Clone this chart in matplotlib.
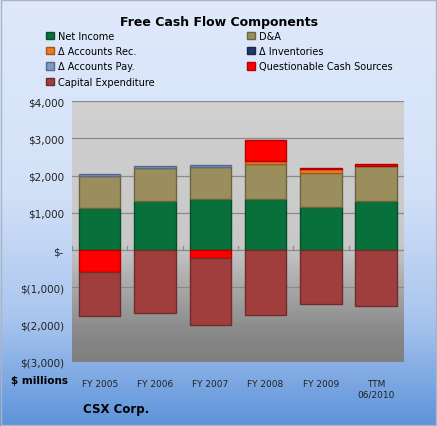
import matplotlib.pyplot as plt
import matplotlib.colors as mcolors
import numpy as np

## Data ($ millions)

categories = ["FY 2005", "FY 2006", "FY 2007", "FY 2008", "FY 2009", "TTM\n06/2010"]
net_income = [1135, 1330, 1360, 1385, 1170, 1330]
dna = [845, 865, 880, 915, 910, 930]
accounts_rec = [0, 0, 0, 80, 100, 0]
inventories = [0, 0, 0, 0, 0, 0]
accounts_pay = [50, 60, 45, 0, 0, 0]
questionable = [-595, 0, -200, 575, 20, 40]
capex = [-1180, -1685, -1820, -1750, -1450, -1505]

series = [
    ("Net Income", net_income, "#08703a"),
    ("D&A", dna, "#9a8f5c"),
    ("\u0394 Accounts Rec.", accounts_rec, "#ee7b22"),
    ("\u0394 Inventories", inventories, "#1f3a68"),
    ("\u0394 Accounts Pay.", accounts_pay, "#7f97c4"),
    ("Questionable Cash Sources", questionable, "#ff0000"),
    ("Capital Expenditure", capex, "#a03e3e"),
]

## Figure + background gradient

fig = plt.figure(figsize=(4.37, 4.27), dpi=100)
bg = fig.add_axes([0, 0, 1, 1], zorder=-10)
grad = np.linspace(0, 1, 256).reshape(-1, 1)
cmap_bg = mcolors.LinearSegmentedColormap.from_list(
    "bg", [(0, "#dfe9fb"), (0.45, "#d3e1f8"), (0.75, "#a9c5ee"), (1, "#5d93da")])
bg.imshow(grad, aspect="auto", cmap=cmap_bg, extent=[0, 1, 0, 1], origin="upper")
bg.set_xlim(0, 1)
bg.set_ylim(0, 1)
bg.axis("off")
bg.add_patch(plt.Rectangle((0.003, 0.003), 0.994, 0.994, fill=False,
                           edgecolor="#a9b4c4", lw=1))

ax = fig.add_axes([0.165, 0.150, 0.759, 0.611])
ax.set_ylim(-3000, 4000)
ax.set_xlim(-0.5, len(categories) - 0.5)

# plot area gradient: light gray on top, darker towards the bottom
cmap_pa = mcolors.LinearSegmentedColormap.from_list(
    "pa", [(0, "#d0d0d0"), (0.55, "#c8c8c8"), (0.75, "#a2a2a2"), (0.9, "#878787"), (1, "#7f7f7f")])
ax.imshow(grad, aspect="auto", cmap=cmap_pa, extent=[-0.5, len(categories) - 0.5, -3000, 4000],
          origin="upper", zorder=0)

for v in range(-3000, 4001, 1000):
    ax.axhline(v, color="#8a8a8a", lw=0.9, zorder=1)

x = np.arange(len(categories))
pos_base = np.zeros(len(categories))
neg_base = np.zeros(len(categories))
handles = []
for name, vals, col in series:
    vals = np.array(vals, dtype=float)
    bottoms = np.where(vals >= 0, pos_base, neg_base)
    edge = tuple(c * 0.7 for c in mcolors.to_rgb(col))
    b = ax.bar(x, vals, 0.75, bottom=bottoms, color=col, edgecolor=edge,
               linewidth=1.0, zorder=3, label=name)
    # no outline for empty segments
    for p, v in zip(b.patches, vals):
        if v == 0:
            p.set_visible(False)
    handles.append(b)
    pos_base = pos_base + np.where(vals > 0, vals, 0)
    neg_base = neg_base + np.where(vals < 0, vals, 0)

ax.set_yticks(range(-3000, 4001, 1000))
def fmt(v):
    if v == 0:
        return "$-"
    if v < 0:
        return "$({:,})".format(-v)
    return "${:,}".format(v)
ax.set_yticklabels([fmt(v) for v in range(-3000, 4001, 1000)], fontsize=7.5, color="#222222")
ax.set_xticks(x)
ax.set_xticklabels(categories, fontsize=6.5, color="#222222")
ax.tick_params(axis="both", length=0, pad=6)
ax.tick_params(axis="x", pad=12)
for s in ax.spines.values():
    s.set_visible(False)

# small tick marks on zero line
for xi in np.arange(-0.5, len(categories), 1.0):
    ax.plot([xi, xi], [0, 100], color="#8a8a8a", lw=0.8, zorder=2)

fig.text(0.5, 0.948, "Free Cash Flow Components", ha="center", va="center",
         fontsize=9, fontweight="bold")
fig.text(0.025, 0.107, "$ millions", fontsize=7.5, fontweight="bold", va="center")
fig.text(0.19, 0.042, "CSX Corp.", fontsize=8.5, fontweight="bold", va="center")

# legend order so ncol=2 fills like the original (row-wise)
order = [0, 2, 4, 6, 1, 3, 5]
leg_handles = [plt.Rectangle((0, 0), 1, 1, facecolor=series[i][2],
                             edgecolor=tuple(c * 0.7 for c in mcolors.to_rgb(series[i][2])))
               for i in order]
fig.legend(leg_handles, [series[i][0] for i in order],
           ncol=2, loc="upper left", bbox_to_anchor=(0.095, 0.937), frameon=False,
           fontsize=7, handlelength=0.8, handleheight=0.8, handletextpad=0.4,
           columnspacing=9.5, labelspacing=0.55, borderpad=0)

fig.savefig("out.png", dpi=100)
